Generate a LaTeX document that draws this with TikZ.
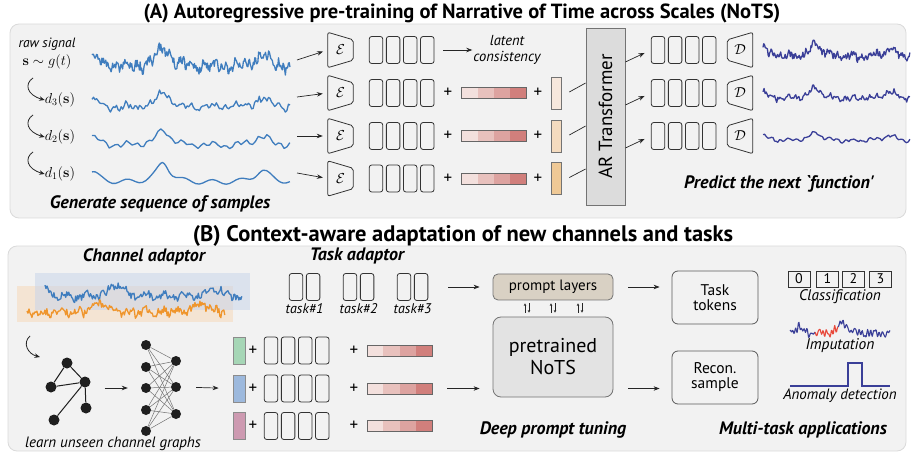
\documentclass[tikz,border=0pt]{standalone}
\usepackage[no-math]{fontspec}
\usetikzlibrary{arrows.meta,calc}
\newfontfamily\ptsans{PT Sans}

\definecolor{panelfill}{HTML}{F2F2F2}
\definecolor{panelline}{HTML}{DADADA}
\definecolor{sigblue}{HTML}{3F7DBE}
\definecolor{navy}{HTML}{3A3F98}
\definecolor{sigorange}{HTML}{EF952C}
\definecolor{pe1}{HTML}{F3E0DD}
\definecolor{pe2}{HTML}{E8C1BD}
\definecolor{pe3}{HTML}{DDA3A0}
\definecolor{pe4}{HTML}{D17F7C}
\definecolor{cls2}{HTML}{F6E7DC}
\definecolor{cls3}{HTML}{F4DBBF}
\definecolor{cls4}{HTML}{EFC996}
\definecolor{chgreen}{HTML}{A6D6B6}
\definecolor{chblue}{HTML}{9DB9DD}
\definecolor{chpink}{HTML}{CD9AB1}
\definecolor{artfill}{HTML}{DCDCDC}
\definecolor{promptfill}{HTML}{D9D1C4}
\definecolor{notsfill}{HTML}{E3E3E3}
\definecolor{impred}{HTML}{E8483A}
\definecolor{bgblue}{HTML}{C9D5EA}
\definecolor{bgorange}{HTML}{F6D9BA}

% a row of latent tokens: name, x of first centre, y, count
\newcommand\tokrow[4]{%
  \foreach \k in {1,...,#4}{\node[tok] (#1-\k) at ({#2+17.1*(\k-1)},#3) {};}}
% encoder / decoder trapezia around a named label node
\newcommand\encoder[3]{%
  \node[codec] (#1) at (#2,#3) {$\mathcal{E}$};
  \draw[codecline] (#1.north west) -- ([yshift=-7.5pt]#1.north east)
    -- ([yshift=7.5pt]#1.south east) -- (#1.south west) -- cycle;}
\newcommand\decoder[3]{%
  \node[codec] (#1) at (#2,#3) {$\mathcal{D}$};
  \draw[codecline] (#1.north east) -- ([yshift=-7.5pt]#1.north west)
    -- ([yshift=7.5pt]#1.south west) -- (#1.south east) -- cycle;}

\begin{document}
\begin{tikzpicture}[x=1pt,y=-1pt,
  declare function={
    bA(\t)=1.7/(1+((\t-0.36)/0.04)^2)+1.0/(1+((\t-0.86)/0.05)^2)+0.9/(1+(\t/0.04)^2)+0.2*sin(\t*2520);
    bB(\t)=bA(\t)+0.22*sin(\t*6500+40);
    bC(\t)=bB(\t)+0.15*sin(\t*15000+10);
    bD(\t)=1.4/(1+((\t-0.36)/0.035)^2)+0.8/(1+((\t-0.86)/0.05)^2)+0.9/(1+(\t/0.03)^2)+0.25*sin(\t*3600+50)+0.15*sin(\t*9000);
    bF(\t)=1.1/(1+((\t-0.38)/0.04)^2)+0.9/(1+((\t-0.88)/0.05)^2)+0.2*sin(\t*4200+100)+0.15*sin(\t*11000);
    bI(\t)=bC(0.8*\t-0.064)+0.25*sin(\t*9000)+0.2*sin(\t*13000+60);
  },
  panel/.style={draw=panelline, fill=panelfill, rounded corners=9pt, line width=0.8pt},
  title/.style={font=\ptsans\bfseries\fontsize{20.5}{20.5}\selectfont, inner sep=0pt},
  sec/.style={font=\ptsans\bfseries\itshape\fontsize{18}{18}\selectfont, inner sep=0pt},
  lbl/.style={font=\ptsans\itshape\fontsize{14.5}{16}\selectfont, inner sep=0pt, align=center},
  mathlbl/.style={font=\fontsize{14}{14}\selectfont, inner sep=0pt},
  tok/.style={draw=black!80, line width=0.8pt, rounded corners=2.5pt,
    minimum width=13.5pt, minimum height=27pt, inner sep=0pt},
  codec/.style={inner sep=0pt, minimum width=25pt, minimum height=35pt,
    font=\fontsize{15}{15}\selectfont},
  codecline/.style={draw=black!80, line width=0.8pt, rounded corners=2pt},
  arr/.style={-{Stealth[length=6pt,width=4.5pt]}, line width=0.7pt, draw=black!85},
  carr/.style={-{Stealth[length=5.5pt,width=4.5pt]}, line width=0.8pt, draw=black!85},
  tiny/.style={-{Stealth[length=2.5pt,width=2.5pt]}, line width=0.5pt, draw=black!85},
  plus/.style={font=\ptsans\fontsize{17}{17}\selectfont, inner sep=0pt},
  posbar/.style={minimum width=65pt, minimum height=11pt, inner sep=0pt,
    draw=black!60, line width=0.7pt,
    path picture={
      \foreach \i/\c in {0/pe1,1/pe2,2/pe3,3/pe4}{
        \fill[\c] ($(path picture bounding box.north west)!{\i/4}!(path picture bounding box.north east)$)
          rectangle ($(path picture bounding box.south west)!{(\i+1)/4}!(path picture bounding box.south east)$);}
    }},
  cond/.style={draw=black!55, line width=0.7pt, minimum width=10pt, minimum height=32pt, inner sep=0pt},
  chan/.style={draw=black!45, line width=0.7pt, minimum width=12pt, minimum height=27pt, inner sep=0pt},
  wave/.style={line width=1.3pt, line join=round},
  dot/.style={circle, fill=black!88, inner sep=0pt, minimum size=11pt},
  nnode/.style={circle, fill=black!88, inner sep=0pt, minimum size=10pt},
  box/.style={draw=black!65, line width=0.8pt, rounded corners=6pt, fill=panelfill,
    font=\ptsans\fontsize{15.5}{15}\selectfont, align=center, inner sep=0pt},
  digit/.style={draw=black!80, line width=0.8pt, minimum width=22pt, minimum height=16pt,
    inner sep=0pt, font=\ptsans\fontsize{14}{14}\selectfont},
]
\useasboundingbox (0,0) rectangle (913,454);

% ---------------- panels and titles ----------------
\draw[panel] (10,24) rectangle (906,218);
\draw[panel] (8,246) rectangle (906,451);
\node[title] (titleA) at (462,13) {(A) Autoregressive pre-training of Narrative of Time across Scales (NoTS)};
\node[title, font=\ptsans\bfseries\fontsize{22.5}{22.5}\selectfont] (titleB) at (463,236) {(B) Context-aware adaptation of new channels and tasks};

% ---------------- (A) multi-scale samples ----------------
\node[lbl, font=\ptsans\itshape\fontsize{13.5}{13.5}\selectfont] (rawlbl) at (47,44) {raw signal};
\node[mathlbl] (rawmath) at (47,62) {$\mathbf{s}\sim g(t)$};
\node[mathlbl] (d3) at (60,100) {$d_3(\mathbf{s})$};
\node[mathlbl] (d2) at (60,137) {$d_2(\mathbf{s})$};
\node[mathlbl] (d1) at (60,174) {$d_1(\mathbf{s})$};
\coordinate (c1s) at (33,78);
\coordinate (c2s) at (33,115);
\coordinate (c3s) at (33,152);
\draw[carr] (c1s) .. controls (24,84) and (27,95) .. (d3.west);
\draw[carr] (c2s) .. controls (24,121) and (27,132) .. (d2.west);
\draw[carr] (c3s) .. controls (24,158) and (27,169) .. (d1.west);

\pgfmathsetseed{11}
\draw[wave, sigblue] plot[domain=0:1, samples=260] ({92+198*\x}, {67-11*(bC(\x)+0.4*rand)});
\pgfmathsetseed{23}
\draw[wave, sigblue] plot[domain=0:1, samples=130] ({92+198*\x}, {108-9*(bC(\x)+0.25*rand)});
\pgfmathsetseed{37}
\draw[wave, sigblue] plot[domain=0:1, samples=70] ({92+198*\x}, {146-9.5*(bB(\x)+0.1*rand)});
\draw[wave, sigblue] plot[smooth, domain=0:1, samples=60] ({92+198*\x}, {183-12*bA(\x)});

\node[sec] (gen) at (160,204) {Generate sequence of samples};

% encoders
\encoder{e1}{340.5}{50}
\encoder{e2}{340.5}{93}
\encoder{e3}{340.5}{136}
\encoder{e4}{340.5}{178.5}
\coordinate (s1) at (297,60);
\coordinate (s2) at (297,97);
\coordinate (s3) at (297,136);
\coordinate (s4) at (297,173);
\draw[arr, shorten >=5pt] (s1) -- (e1.west);
\draw[arr, shorten >=5pt] (s2) -- (e2.west);
\draw[arr, shorten >=5pt] (s3) -- (e3.west);
\draw[arr, shorten >=5pt] (s4) -- (e4.west);

% latent tokens
\tokrow{t1}{376}{50}{4}
\tokrow{t2}{376}{93}{4}
\tokrow{t3}{376}{136}{4}
\tokrow{t4}{376}{178.5}{4}

\node[lbl] (lc) at (507,50) {latent\\consistency};
\draw[arr, shorten <=9pt, shorten >=1pt] (t1-4.east) -- (lc.west |- t1-4.east);

% position encodings and scale conditions
\foreach \r/\y/\c in {2/93/cls2, 3/136/cls3, 4/178.5/cls4}{
  \node[plus] (pa\r) at (448,\y) {+};
  \node[posbar] (pb\r) at (494,\y) {};
  \node[plus] (pz\r) at (538,\y) {+};
  \node[cond, fill=\c] (cd\r) at (556,\y) {};
}

% AR transformer
\node[draw=black!55, fill=artfill, line width=0.8pt, minimum width=39pt, minimum height=177pt, inner sep=0pt] (ar) at (605.5,116.5) {};
\node[rotate=90, font=\ptsans\fontsize{19}{19}\selectfont, inner sep=0pt] (arlbl) at (ar.center) {AR Transformer};
\draw[line width=0.7pt, draw=black!85] ([xshift=8pt,yshift=1pt]cd2.east) -- ([yshift=33.5pt]ar.west);
\draw[line width=0.7pt, draw=black!85] ([xshift=8pt,yshift=1pt]cd3.east) -- ([yshift=-9.5pt]ar.west);
\draw[line width=0.7pt, draw=black!85] ([xshift=8pt,yshift=1pt]cd4.east) -- ([yshift=-52.5pt]ar.west);

% predicted tokens, decoders and signals
\tokrow{o1}{658}{50}{4}
\tokrow{o2}{658}{93}{4}
\tokrow{o3}{658}{136}{4}
\draw[arr, shorten >=7pt] ([yshift=54.5pt]ar.east) -- (o1-1.west);
\draw[arr, shorten >=7pt] ([yshift=11.5pt]ar.east) -- (o2-1.west);
\draw[arr, shorten >=7pt] ([yshift=-31.5pt]ar.east) -- (o3-1.west);
\decoder{dc1}{740}{50}
\decoder{dc2}{740}{93}
\decoder{dc3}{740}{136}

\pgfmathsetseed{41}
\draw[wave, navy] plot[domain=0:1, samples=200] ({763+147*\x}, {57-8*(bC(\x)+0.4*rand)});
\pgfmathsetseed{53}
\draw[wave, navy] plot[domain=0:1, samples=140] ({763+147*\x}, {99-7*(bC(\x)+0.25*rand)});
\pgfmathsetseed{67}
\draw[wave, navy] plot[domain=0:1, samples=90] ({763+147*\x}, {141-5.5*(bB(\x)+0.15*rand)});

\node[sec] (pred) at (779,184) {Predict the next \textasciigrave function'};

% ---------------- (B) channel adaptor ----------------
\node[sec] (chad) at (144,257) {Channel adaptor};
\fill[bgorange, opacity=0.55] (17,286) rectangle (233,322);
\fill[bgblue, opacity=0.55] (35,273) rectangle (250,310);
\pgfmathsetseed{71}
\draw[wave, sigblue] plot[domain=0:1, samples=200] ({45+197*\x}, {297-9*(bD(\x)+0.4*rand)});
\pgfmathsetseed{83}
\draw[wave, sigorange] plot[domain=0:1, samples=200] ({27+198*\x}, {313-10*(bF(\x)+0.4*rand)});

% learned channel graph
\node[dot] (g1) at (67,363) {};
\node[dot] (g2) at (51,387) {};
\node[dot] (g3) at (85,382) {};
\node[dot] (g4) at (86,408) {};
\node[dot] (g5) at (54,420) {};
\foreach \a/\b in {g1/g2, g1/g3, g2/g3, g3/g4, g3/g5}
  \draw[line width=1pt, black!88] (\a) -- (\b);
\coordinate (cb) at (30,336);
\coordinate (cbe) at (40,357);
\draw[carr] (cb) .. controls (22,343) and (28,354) .. (cbe);

% graph network
\foreach \i/\y in {1/345, 2/367, 3/388, 4/410, 5/431}
  \node[nnode] (nl\i) at (146,\y) {};
\foreach \j/\y in {1/361, 2/387, 3/414}
  \node[nnode] (nr\j) at (176,\y) {};
\foreach \i in {1,...,5}{\foreach \j in {1,2,3}{\draw[line width=0.5pt, black!55] (nl\i) -- (nr\j);}}
\draw[arr, shorten <=14pt, shorten >=13pt] (g3.east |- nl3.west) -- (nl3.west);

% channel-aware tokens
\foreach \r/\y/\c in {1/350.5/chgreen, 2/388.5/chblue, 3/426/chpink}{
  \node[chan, fill=\c] (ch\r) at (239,\y) {};
  \node[plus] (pc\r) at (253,\y) {+};
  \tokrow{b\r}{271}{\y}{4}
  \node[plus] (pd\r) at (354,\y) {+};
  \node[posbar] (pp\r) at (399.5,\y) {};
}
\draw[arr, shorten <=15pt, shorten >=14pt] (nr2.east) -- (ch2.west);
\node[lbl, font=\ptsans\itshape\fontsize{15}{15}\selectfont] (lucg) at (113,444) {learn unseen channel graphs};

% ---------------- (B) task adaptor and prompt tuning ----------------
\node[sec] (taad) at (357,256) {Task adaptor};
\tokrow{ta1}{296}{287}{2}
\tokrow{ta2}{350}{287}{2}
\tokrow{ta3}{404}{287}{2}
\node[lbl, font=\ptsans\itshape\fontsize{14}{14}\selectfont] (tl1) at ($(ta1-1)!0.5!(ta1-2)+(0,22)$) {task\#1};
\node[lbl, font=\ptsans\itshape\fontsize{14}{14}\selectfont] (tl2) at ($(ta2-1)!0.5!(ta2-2)+(0,22)$) {task\#2};
\node[lbl, font=\ptsans\itshape\fontsize{14}{14}\selectfont] (tl3) at ($(ta3-1)!0.5!(ta3-2)+(0,22)$) {task\#3};

\node[draw=black!55, fill=promptfill, line width=0.8pt, rounded corners=5pt,
  minimum width=120pt, minimum height=26pt, inner sep=0pt,
  font=\ptsans\fontsize{15}{15}\selectfont] (pl) at (553,287) {prompt layers};
\node[draw=black!55, fill=notsfill, line width=0.8pt, rounded corners=8pt,
  minimum width=120pt, minimum height=80pt, inner sep=0pt, align=center,
  font=\ptsans\fontsize{20}{22}\selectfont] (nots) at (553,357) {pretrained\\NoTS};
\foreach \dx in {-26,0,27}{
  \draw[tiny] ([xshift=\dx pt-2pt, yshift=4pt]nots.north) -- ([xshift=\dx pt-2pt, yshift=-3pt]pl.south);
  \draw[tiny] ([xshift=\dx pt+2pt, yshift=-3pt]pl.south) -- ([xshift=\dx pt+2pt, yshift=4pt]nots.north);
}
\draw[arr, shorten <=20pt, shorten >=13pt] (ta3-2.east) -- (pl.west);
\draw[arr, shorten <=15pt, shorten >=13pt] (pp2.east) -- (nots.west |- pp2.east);
\node[sec] (dpt) at (553,430) {Deep prompt tuning};

% ---------------- (B) task heads and applications ----------------
\node[box, minimum width=86pt, minimum height=53pt] (tt) at (715,297.5) {Task\\tokens};
\node[box, minimum width=86pt, minimum height=53pt] (rs) at (715,377.5) {Recon.\\sample};
\draw[arr, shorten <=15pt, shorten >=12pt] (pl.east) -- (tt.west |- pl.east);
\draw[arr, shorten <=15pt, shorten >=12pt] (nots.east |- pp2.east) -- (rs.west |- pp2.east);

\node[digit] (k0) at (799,279) {0};
\node[digit] (k1) at (827.5,279) {1};
\node[digit] (k2) at (853.5,279) {2};
\node[digit] (k3) at (880.5,279) {3};
\node[lbl, font=\ptsans\itshape\fontsize{15.3}{15.3}\selectfont] (clsf) at (840,297) {Classification};

\draw[wave, navy, line width=1.1pt] plot[domain=0:0.25, samples=40] ({790+100*\x}, {334-7*bI(\x)});
\draw[wave, impred, line width=1.1pt] plot[domain=0.25:0.48, samples=36] ({790+100*\x}, {334-7*bI(\x)});
\draw[wave, navy, line width=1.1pt] plot[domain=0.48:1, samples=80] ({790+100*\x}, {334-7*bI(\x)});
\node[lbl, font=\ptsans\itshape\fontsize{15.5}{15.5}\selectfont] (imp) at (840,346) {Imputation};

\draw[navy, line width=1.2pt] (790,386) -- (848,386) -- (848,363) -- (862,363) -- (862,386) -- (890,386);
\node[lbl, font=\ptsans\itshape\fontsize{15}{15}\selectfont] (anom) at (840,396) {Anomaly detection};

\node[sec] (mta) at (803,430) {Multi-task applications};
\end{tikzpicture}
\end{document}
